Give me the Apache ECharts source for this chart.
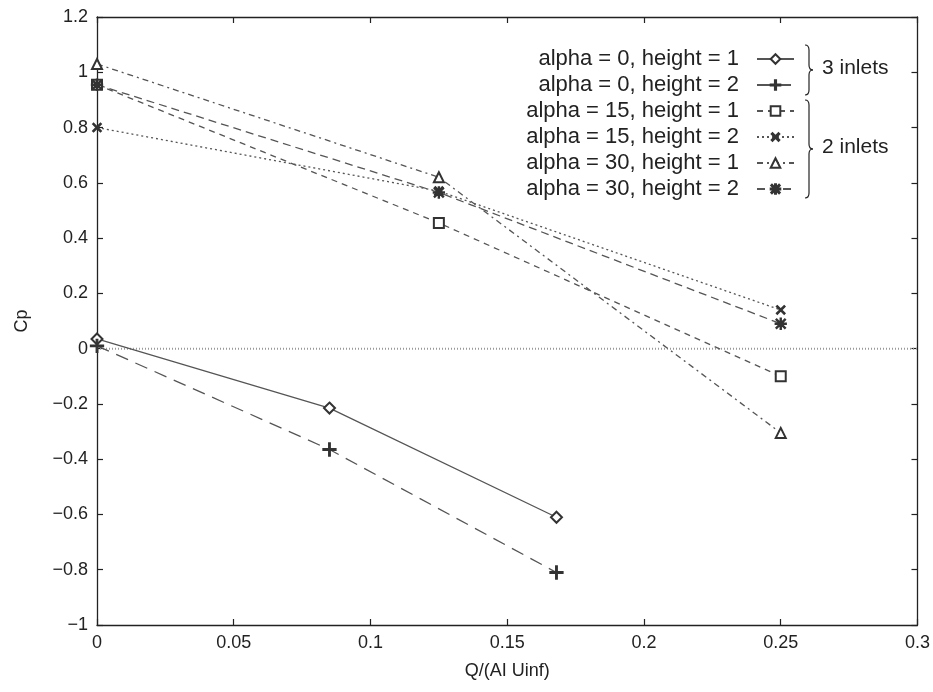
<!DOCTYPE html>
<html>
<head>
<meta charset="utf-8">
<script src="https://cdn.jsdelivr.net/npm/echarts@6/dist/echarts.min.js"></script>
<style>
  html, body { margin: 0; padding: 0; background: #fff; }
  #chart { width: 933px; height: 692px; }
</style>
</head>
<body>
<div id="chart"></div>
<script>
// flow rate (x) for the 3-inlet and 2-inlet runs
const xThreeInlets = [0, 0.085, 0.168];
const xTwoInlets = [0, 0.125, 0.25];

// Cp values
const cpA0H1 = [0.035, -0.215, -0.61];
const cpA0H2 = [0.01, -0.365, -0.81];
const cpA15H1 = [0.955, 0.455, -0.10];
const cpA15H2 = [0.80, 0.57, 0.14];
const cpA30H1 = [1.03, 0.62, -0.305];
const cpA30H2 = [0.955, 0.565, 0.09];

// zero reference line
const zeroX = [0, 0.3];
const zeroY = [0, 0];

const names = [
  'alpha = 0, height = 1',
  'alpha = 0, height = 2',
  'alpha = 15, height = 1',
  'alpha = 15, height = 2',
  'alpha = 30, height = 1',
  'alpha = 30, height = 2'
];

const FONT = '"Liberation Sans", Arial, sans-serif';
const plusPath = 'path://M4.4,0H5.6V4.4H10V5.6H5.6V10H4.4V5.6H0V4.4H4.4Z';
const starPath = 'path://M4.5,0H5.5V4.5H10V5.5H5.5V10H4.5V5.5H0V4.5H4.5Z' +
  'M0.6,1.3L1.3,0.6L9.4,8.7L8.7,9.4Z M9.4,1.3L8.7,0.6L0.6,8.7L1.3,9.4Z';

function pairs(xs, ys) {
  return xs.map((x, i) => [x, ys[i]]);
}

function line(name, xs, ys, dash, symbol, size, extra) {
  return Object.assign({
    name: name,
    type: 'line',
    data: pairs(xs, ys),
    symbol: symbol,
    symbolSize: size,
    showAllSymbol: true,
    lineStyle: { color: '#555', width: 1.3, type: dash },
    itemStyle: { color: '#333', borderColor: '#333', borderWidth: 1.3 },
    emphasis: { disabled: true },
    animation: false,
    z: 3
  }, extra || {});
}

// curly brace drawn from curve pieces (annotation only)
function brace(x0, y0, y1, w) {
  const ym = (y0 + y1) / 2;
  const r = 5;
  const st = { fill: null, stroke: '#222', lineWidth: 1.2 };
  const xs = x0 + w;
  return [
    { type: 'bezierCurve', silent: true, style: st,
      shape: { x1: x0, y1: y0, x2: xs, y2: y0 + r, cpx1: xs, cpy1: y0 } },
    { type: 'line', silent: true, style: st,
      shape: { x1: xs, y1: y0 + r, x2: xs, y2: ym - r } },
    { type: 'bezierCurve', silent: true, style: st,
      shape: { x1: xs, y1: ym - r, x2: x0 + 2 * w, y2: ym, cpx1: xs, cpy1: ym } },
    { type: 'bezierCurve', silent: true, style: st,
      shape: { x1: x0 + 2 * w, y1: ym, x2: xs, y2: ym + r, cpx1: xs, cpy1: ym } },
    { type: 'line', silent: true, style: st,
      shape: { x1: xs, y1: ym + r, x2: xs, y2: y1 - r } },
    { type: 'bezierCurve', silent: true, style: st,
      shape: { x1: xs, y1: y1 - r, x2: x0, y2: y1, cpx1: xs, cpy1: y1 } }
  ];
}

const chart = echarts.init(document.getElementById('chart'));

const axisLine = { show: true, onZero: false, lineStyle: { color: '#222', width: 1.3 } };
const tick = { show: true, inside: true, length: 6, lineStyle: { color: '#222', width: 1.2 } };
const fmt = v => (Math.abs(v) < 1e-9 ? '0' : String(+v.toFixed(2)).replace('-', '\u2212'));
const labelStyle = { color: '#222', fontSize: 18, fontFamily: FONT, margin: 9, formatter: fmt };

const option = {
  backgroundColor: '#fff',
  animation: false,
  grid: { left: 97, right: 15, top: 17, bottom: 67 },
  xAxis: [
    {
      type: 'value', min: 0, max: 0.3, interval: 0.05, position: 'bottom',
      axisLine: axisLine, axisTick: tick, splitLine: { show: false },
      axisLabel: labelStyle,
      name: 'Q/(AI Uinf)', nameLocation: 'middle', nameGap: 37,
      nameTextStyle: { color: '#222', fontSize: 18, fontFamily: FONT }
    },
    {
      type: 'value', min: 0, max: 0.3, interval: 0.05, position: 'top',
      axisLine: axisLine, axisTick: tick, splitLine: { show: false },
      axisLabel: { show: false }
    }
  ],
  yAxis: [
    {
      type: 'value', min: -1, max: 1.2, interval: 0.2, position: 'left',
      axisLine: axisLine, axisTick: tick, splitLine: { show: false },
      axisLabel: labelStyle,
      name: 'Cp', nameLocation: 'middle', nameGap: 66,
      nameTextStyle: { color: '#222', fontSize: 18, fontFamily: FONT }
    },
    {
      type: 'value', min: -1, max: 1.2, interval: 0.2, position: 'right',
      axisLine: axisLine, axisTick: tick, splitLine: { show: false },
      axisLabel: { show: false }
    }
  ],
  legend: {
    data: names,
    orient: 'vertical',
    align: 'right',
    right: 138,
    top: 48,
    padding: 0,
    itemGap: 4,
    itemWidth: 37,
    itemHeight: 12,
    selectedMode: false,
    textStyle: {
      color: '#222', fontSize: 22, fontFamily: FONT, lineHeight: 22,
      padding: [0, 13, 0, 0]
    }
  },
  series: [
    {
      name: 'zero', type: 'line', data: pairs(zeroX, zeroY), symbol: 'none',
      lineStyle: { color: '#999', width: 2, type: [1, 2] },
      emphasis: { disabled: true }, silent: true, z: 2
    },
    line(names[0], xThreeInlets, cpA0H1, 'solid', 'emptyDiamond', 11),
    line(names[1], xThreeInlets, cpA0H2, [13, 8], plusPath, 13),
    line(names[2], xTwoInlets, cpA15H1, [6, 5], 'emptyRect', 10),
    line(names[3], xTwoInlets, cpA15H2, [2, 3], plusPath, 11, { symbolRotate: 45 }),
    line(names[4], xTwoInlets, cpA30H1, [6, 4, 2, 4], 'emptyTriangle', 10),
    line(names[5], xTwoInlets, cpA30H2, [8, 5], starPath, 11)
  ],
  graphic: brace(805, 45, 95, 4).concat(brace(805, 100, 198, 4)).concat([
    {
      type: 'text', left: 822, top: 58, silent: true,
      style: { text: '3 inlets', fill: '#222', fontSize: 21, fontFamily: FONT }
    },
    {
      type: 'text', left: 822, top: 137, silent: true,
      style: { text: '2 inlets', fill: '#222', fontSize: 21, fontFamily: FONT }
    }
  ])
};

chart.setOption(option);
</script>
</body>
</html>
